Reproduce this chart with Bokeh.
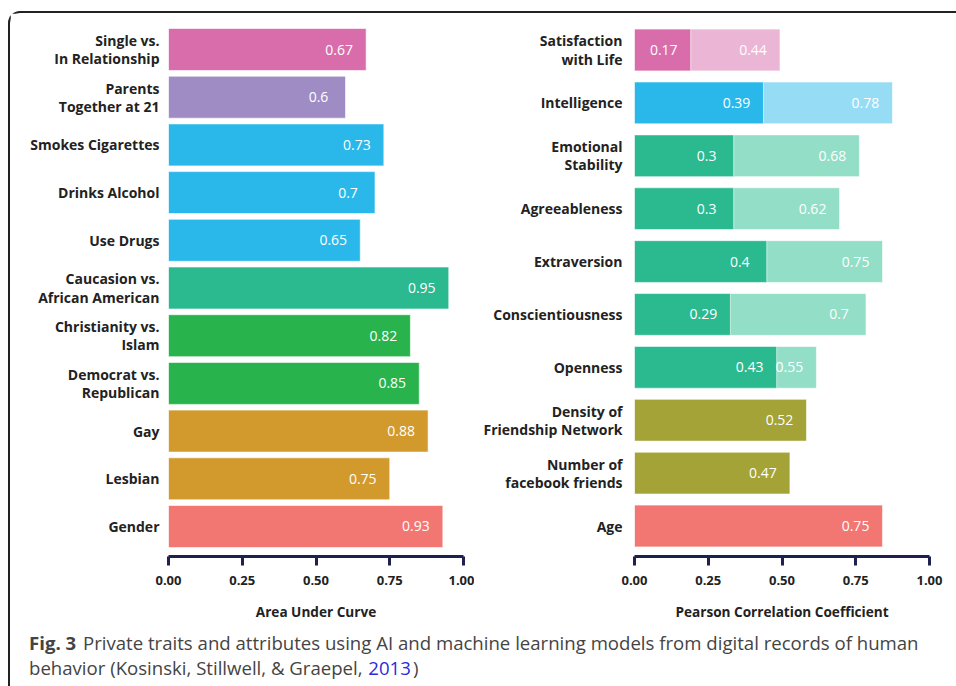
from bokeh.plotting import figure
from bokeh.models import (FactorRange, Range1d, FixedTicker, Div, ColumnDataSource,
                          LabelSet, LinearAxis, PrintfTickFormatter)
from bokeh.layouts import row, column
from bokeh.embed import file_html
from bokeh.resources import INLINE
from bokeh.core.properties import value

# ---------------- data ----------------
left_labels = ["Single vs.\nIn Relationship", "Parents\nTogether at 21", "Smokes Cigarettes",
               "Drinks Alcohol", "Use Drugs", "Caucasion vs.\nAfrican American",
               "Christianity vs.\nIslam", "Democrat vs.\nRepublican", "Gay", "Lesbian", "Gender"]
left_auc = [0.67, 0.6, 0.73, 0.7, 0.65, 0.95, 0.82, 0.85, 0.88, 0.75, 0.93]
left_colors = ["#D96DAB", "#A08CC5", "#2AB8EB", "#2AB8EB", "#2AB8EB", "#2BB98F",
               "#28B34C", "#28B34C", "#D2992D", "#D2992D", "#F27671"]

right_labels = ["Satisfaction\nwith Life", "Intelligence", "Emotional\nStability", "Agreeableness",
                "Extraversion", "Conscientiousness", "Openness", "Density of\nFriendship Network",
                "Number of\nfacebook friends", "Age"]
right_likes = [0.17, 0.39, 0.3, 0.3, 0.4, 0.29, 0.43, 0.52, 0.47, 0.75]
right_colors = ["#D96DAB", "#2AB8EB", "#2BB98F", "#2BB98F", "#2BB98F", "#2BB98F", "#2BB98F",
                "#A3A337", "#A3A337", "#F27671"]
right_test_labels = right_labels[:7]
right_test = [0.44, 0.78, 0.68, 0.62, 0.75, 0.7, 0.55]
right_test_colors = ["#EBB6D6", "#97DCF5", "#93DEC6", "#93DEC6", "#93DEC6", "#93DEC6", "#93DEC6"]

axis_ticks = [0.0, 0.25, 0.5, 0.75, 1.0]
left_xlabel = "Area Under Curve"
right_xlabel = "Pearson Correlation Coefficient"
right_scale_end = 0.892   # bar scale used in the original figure's right panel

FONT = "Open Sans"
AXIS_COLOR = "#1E2050"
LABEL_COLOR = "#222222"


def style_axes(p, xaxis, ystandoff):
    xaxis.ticker = FixedTicker(ticks=axis_ticks)
    xaxis.formatter = PrintfTickFormatter(format="%.2f")
    xaxis.axis_line_color = AXIS_COLOR
    xaxis.axis_line_width = 3
    xaxis.major_tick_line_color = AXIS_COLOR
    xaxis.major_tick_line_width = 3
    xaxis.major_tick_in = 0
    xaxis.major_tick_out = 9
    xaxis.minor_tick_line_color = None
    xaxis.major_label_text_font = FONT
    xaxis.major_label_text_font_size = "13px"
    xaxis.major_label_text_font_style = "bold"
    xaxis.major_label_text_color = LABEL_COLOR
    xaxis.major_label_standoff = 10
    xaxis.axis_label_text_font = FONT
    xaxis.axis_label_text_font_size = "13.6px"
    xaxis.axis_label_text_font_style = "bold"
    xaxis.axis_label_text_color = LABEL_COLOR
    xaxis.axis_label_standoff = 14

    ya = p.yaxis[0]
    ya.axis_line_color = None
    ya.major_tick_line_color = None
    ya.minor_tick_line_color = None
    ya.major_label_text_font = FONT
    ya.major_label_text_font_size = "14px"
    ya.major_label_text_font_style = "bold"
    ya.major_label_text_color = LABEL_COLOR
    ya.major_label_text_line_height = 0.95
    ya.major_label_standoff = ystandoff
    p.xgrid.grid_line_color = None
    p.ygrid.grid_line_color = None
    p.outline_line_color = None


# ---------------- left panel ----------------
left_src = ColumnDataSource(dict(y=left_labels, x=left_auc, c=left_colors,
                                 t=[str(v) for v in left_auc]))
pl = figure(width=464, height=612, output_backend="svg", toolbar_location=None,
            y_range=FactorRange(factors=list(reversed(left_labels)), range_padding=0.02345),
            x_range=Range1d(0, 1), x_axis_location=None,
            min_border_left=158, min_border_right=11, min_border_top=6, min_border_bottom=69)
pl.hbar(y="y", right="x", left=0, height=0.88, fill_color="c", line_color="white",
        line_alpha=0.6, line_width=1, source=left_src)
pl.add_layout(LabelSet(x="x", y="y", text="t", x_offset=-27, text_align="center",
                       text_baseline="middle", text_color="white", text_font=value(FONT),
                       text_font_size="14px", source=left_src))
axl = LinearAxis(axis_label=left_xlabel)
pl.add_layout(axl, "below")
style_axes(pl, axl, 3)

# ---------------- right panel ----------------
r_src = ColumnDataSource(dict(y=right_labels, x=right_likes, c=right_colors,
                              t=[str(v) for v in right_likes]))
rt_src = ColumnDataSource(dict(y=right_test_labels, x=right_test, c=right_test_colors,
                               t=[str(v) for v in right_test]))
pr = figure(width=472, height=612, output_backend="svg", toolbar_location=None,
            y_range=FactorRange(factors=list(reversed(right_labels)), range_padding=0.0153),
            x_range=Range1d(0, right_scale_end), x_axis_location=None,
            extra_x_ranges={"axis": Range1d(0, 1)},
            min_border_left=160, min_border_right=17, min_border_top=6, min_border_bottom=69)
pr.hbar(y="y", right="x", left=0, height=0.79, fill_color="c", line_color="white",
        line_alpha=0.6, line_width=1, source=rt_src)
pr.hbar(y="y", right="x", left=0, height=0.79, fill_color="c", line_color="white",
        line_alpha=0.6, line_width=1, source=r_src)
for s in (rt_src, r_src):
    pr.add_layout(LabelSet(x="x", y="y", text="t", x_offset=-27, text_align="center",
                           text_baseline="middle", text_color="white", text_font=value(FONT),
                           text_font_size="14px", source=s))
axr = LinearAxis(axis_label=right_xlabel, x_range_name="axis")
pr.add_layout(axr, "below")
style_axes(pr, axr, 6)

caption = Div(
    text='<b style="font-weight:700;margin-right:2px">Fig. 3</b> Private traits and attributes '
         'using AI and machine learning models from digital records of human behavior '
         '(Kosinski, Stillwell, &amp; Graepel, '
         '<span style="color:#2B2BD9;margin:0 2px 0 1px">2013</span>)',
    width=936, height=51,
    styles={"font-family": "Open Sans", "font-size": "18.6px", "color": "#444444",
            "font-weight": "400",
            "line-height": "25px", "padding-left": "14px", "padding-top": "0px",
            "box-sizing": "border-box"})

layout = column(row(pl, pr), caption,
                styles={"border-top": "2px solid #222", "border-left": "2px solid #222",
                        "border-top-left-radius": "12px",
                        "margin-top": "11px", "margin-left": "8px"})

open("out.html", "w").write(file_html(layout, INLINE))
